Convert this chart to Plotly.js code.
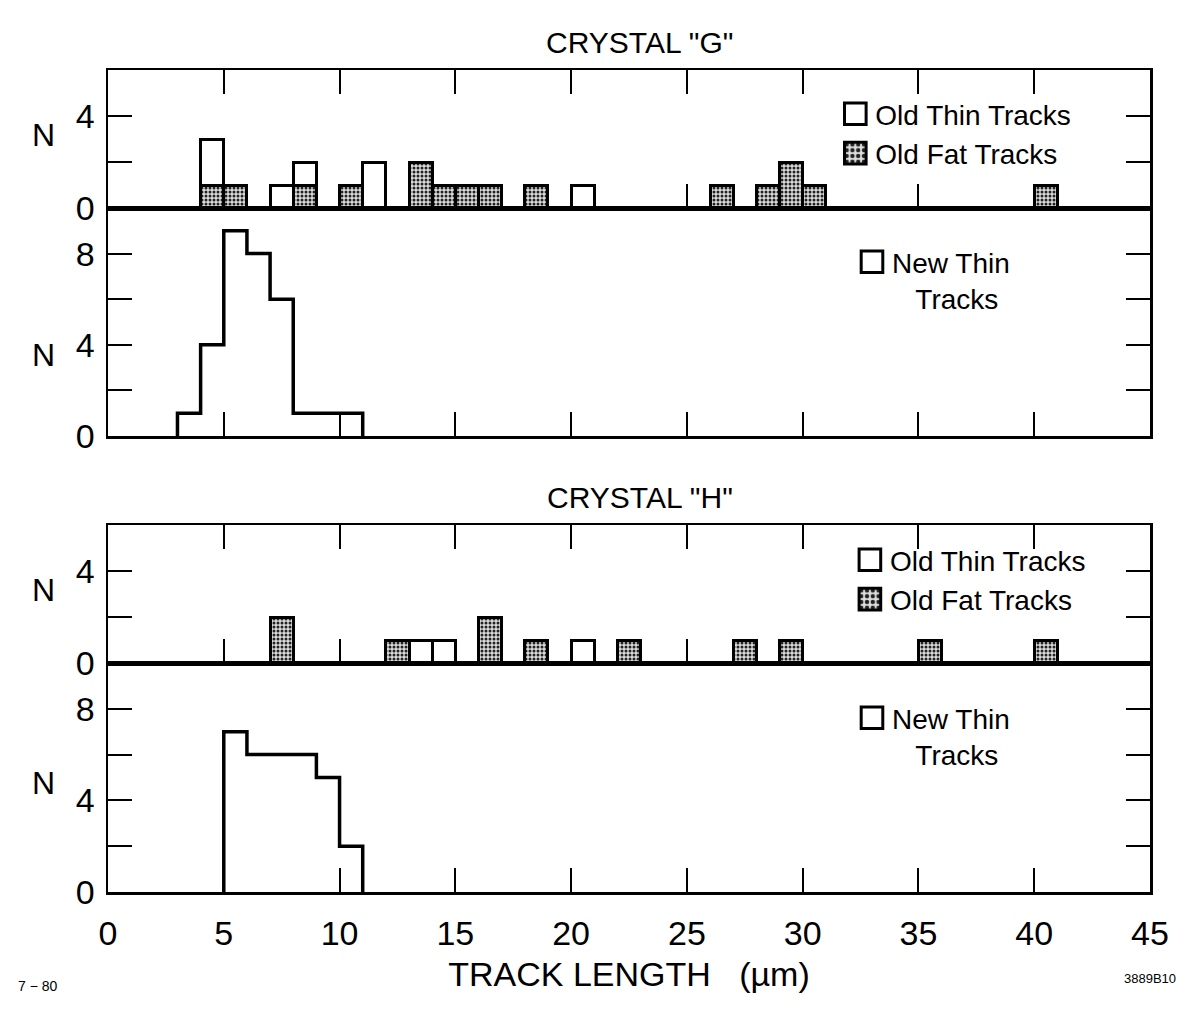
<!DOCTYPE html>
<html>
<head>
<meta charset="utf-8">
<script src="https://cdn.plot.ly/plotly-3.0.1.min.js"></script>
<style>
html,body{margin:0;padding:0;background:#fff}
#chart{width:1187px;height:1011px}
/* legend keys that describe the step outlines are shown at full strength */
#chart .infolayer g.traces{opacity:1 !important}
/* larger legend boxes, like the hand-drawn keys */
#chart .infolayer .legendpoints path{transform:translate(20px,0px) scale(1.8);vector-effect:non-scaling-stroke}
</style>
</head>
<body>
<div id="chart"></div>
<script>
// ---------- data ----------
const binWidth = 1; // µm

// Crystal "G" – old tracks (bin centres, counts)
const gFatX  = [4.5, 5.5, 8.5, 10.5, 13.5, 14.5, 15.5, 16.5, 18.5, 26.5, 28.5, 29.5, 30.5, 40.5];
const gFatN  = [1,   1,   1,   1,    2,    1,    1,    1,    1,    1,    1,    2,    1,    1];
const gThinX = [4.5, 7.5, 8.5, 11.5, 20.5];
const gThinN = [2,   1,   1,   2,    1];   // stacked on top of fat tracks

// Crystal "G" – new thin tracks (bin left edges, counts)
const gNewStart = [3, 4, 5, 6, 7, 8, 9, 10];
const gNewN     = [1, 4, 9, 8, 6, 1, 1, 1];

// Crystal "H" – old tracks
const hFatX  = [7.5, 12.5, 16.5, 18.5, 22.5, 27.5, 29.5, 35.5, 40.5];
const hFatN  = [2,   1,    2,    1,    1,    1,    1,    1,    1];
const hThinX = [13.5, 14.5, 20.5];
const hThinN = [1,    1,    1];

// Crystal "H" – new thin tracks
const hNewStart = [5, 6, 7, 8, 9, 10];
const hNewN     = [7, 6, 6, 6, 5, 2];

const xTickVals = [0, 5, 10, 15, 20, 25, 30, 35, 40, 45];
const oldYTickVals = [0, 2, 4, 6];
const oldYTickText = ['0', '', '4', ''];
const newYTickVals = [0, 2, 4, 6, 8];
const newYTickText = ['0', '', '4', '', '8'];

// ---------- styles ----------
const FONT = 'Liberation Sans, Arial, sans-serif';
const thinMarker = {color: '#ffffff', line: {color: '#000', width: 3}};
const fatMarker = {
  color: '#9a9a9a',
  line: {color: '#000', width: 3},
  pattern: {shape: '.', fgcolor: '#222', bgcolor: '#dcdcdc', size: 4, solidity: 0.45}
};

// step outline built from bin edges + counts
function stepX(starts) { return [starts[0]].concat(starts, [starts[starts.length - 1] + binWidth]); }
function stepY(counts) { return [0].concat(counts, [0]); }
function centres(starts) { return starts.map(s => s + binWidth / 2); }

const NEW_NAME = 'New Thin<br>\u00A0\u00A0\u00A0Tracks';

const traces = [
  // G old
  {type: 'bar', x: gFatX, y: gFatN, width: binWidth, xaxis: 'x', yaxis: 'y', name: 'Old Fat Tracks',
   marker: fatMarker, legend: 'legend', showlegend: true, hoverinfo: 'skip'},
  {type: 'bar', x: gThinX, y: gThinN, width: binWidth, xaxis: 'x', yaxis: 'y', name: 'Old Thin Tracks',
   marker: thinMarker, legend: 'legend', showlegend: true, hoverinfo: 'skip'},
  // G new: step outline + legend key (same data, legend only)
  {type: 'scatter', mode: 'lines', x: stepX(gNewStart), y: stepY(gNewN), line: {shape: 'hv', color: '#000', width: 3.5},
   xaxis: 'x2', yaxis: 'y2', showlegend: false, hoverinfo: 'skip'},
  {type: 'bar', x: centres(gNewStart), y: gNewN, width: binWidth, xaxis: 'x2', yaxis: 'y2', name: NEW_NAME,
   marker: thinMarker, legend: 'legend2', showlegend: true, visible: 'legendonly'},
  // H old
  {type: 'bar', x: hFatX, y: hFatN, width: binWidth, xaxis: 'x3', yaxis: 'y3', name: 'Old Fat Tracks',
   marker: fatMarker, legend: 'legend3', showlegend: true, hoverinfo: 'skip'},
  {type: 'bar', x: hThinX, y: hThinN, width: binWidth, xaxis: 'x3', yaxis: 'y3', name: 'Old Thin Tracks',
   marker: thinMarker, legend: 'legend3', showlegend: true, hoverinfo: 'skip'},
  // H new
  {type: 'scatter', mode: 'lines', x: stepX(hNewStart), y: stepY(hNewN), line: {shape: 'hv', color: '#000', width: 3.5},
   xaxis: 'x4', yaxis: 'y4', showlegend: false, hoverinfo: 'skip'},
  {type: 'bar', x: centres(hNewStart), y: hNewN, width: binWidth, xaxis: 'x4', yaxis: 'y4', name: NEW_NAME,
   marker: thinMarker, legend: 'legend4', showlegend: true, visible: 'legendonly'}
];

function xAxis(anchor, mirror, labels) {
  return {
    anchor: anchor, domain: [0, 1], range: [0, 45], tickvals: xTickVals,
    ticks: 'inside', ticklen: 24, tickwidth: 2, tickcolor: '#000',
    showline: true, linewidth: 2.5, linecolor: '#000', mirror: mirror,
    showgrid: false, zeroline: false, showticklabels: labels, automargin: false,
    tickfont: {family: FONT, size: 34, color: '#000'}, fixedrange: true
  };
}
function yAxis(anchor, domain, maxv, vals, text) {
  return {
    anchor: anchor, domain: domain, range: [0, maxv], tickvals: vals, ticktext: text,
    ticks: 'inside', ticklen: 24, tickwidth: 2, tickcolor: '#000',
    showline: true, linewidth: 2.5, linecolor: '#000', mirror: 'ticks',
    showgrid: false, zeroline: false, automargin: false, ticklabelstandoff: 4,
    tickfont: {family: FONT, size: 34, color: '#000'}, fixedrange: true
  };
}
function legendAt(x, y) {
  return {x: x, y: y, xref: 'paper', yref: 'paper', xanchor: 'left', yanchor: 'top',
          bgcolor: 'rgba(0,0,0,0)', borderwidth: 0,
          traceorder: 'reversed', valign: 'top', orientation: 'v',
          itemclick: false, itemdoubleclick: false,
          font: {family: FONT, size: 28, color: '#000'}};
}

const H = 1011;
const px = v => 1 - v / H; // helper for domain fractions from pixel rows

const xa4 = xAxis('y4', true, true);
xa4.title = {text: 'TRACK LENGTH\u00A0\u00A0\u00A0(µm)', font: {family: FONT, size: 34, color: '#000'}, standoff: 11};
xa4.ticklabelstandoff = 10;

const layout = {
  width: 1187, height: 1011,
  margin: {l: 108, r: 37, t: 0, b: 0},
  paper_bgcolor: '#fff', plot_bgcolor: '#fff',
  showlegend: true,
  barmode: 'stack', bargap: 0,
  font: {family: FONT, color: '#000'},
  title: {text: 'CRYSTAL "G"', x: 0.539, xanchor: 'center', y: px(42), yanchor: 'middle',
          font: {family: FONT, size: 30, color: '#000'}},
  xaxis: xAxis('y', 'ticks', false),
  xaxis2: xAxis('y2', true, false),
  xaxis3: xAxis('y3', 'ticks', false),
  xaxis4: xa4,
  yaxis: yAxis('x', [px(208), px(70)], 6, oldYTickVals, oldYTickText),
  yaxis2: yAxis('x2', [px(436), px(208)], 10, newYTickVals, newYTickText),
  yaxis3: yAxis('x3', [px(663), px(525)], 6, oldYTickVals, oldYTickText),
  yaxis4: yAxis('x4', [px(892), px(663)], 10, newYTickVals, newYTickText),
  legend: legendAt(0.698, px(89)),
  legend2: legendAt(0.714, px(237)),
  legend3: legendAt(0.712, px(535)),
  legend4: legendAt(0.714, px(693)),
  annotations: [
    {text: 'CRYSTAL "H"', xref: 'paper', yref: 'paper', x: 0.5106, y: px(497), showarrow: false,
     font: {family: FONT, size: 30, color: '#000'}},
    {text: 'N', xref: 'paper', yref: 'y domain', x: -0.075, y: 0.53, showarrow: false, font: {family: FONT, size: 32, color: '#000'}},
    {text: 'N', xref: 'paper', yref: 'y2 domain', x: -0.075, y: 0.355, showarrow: false, font: {family: FONT, size: 32, color: '#000'}},
    {text: 'N', xref: 'paper', yref: 'y3 domain', x: -0.075, y: 0.53, showarrow: false, font: {family: FONT, size: 32, color: '#000'}},
    {text: 'N', xref: 'paper', yref: 'y4 domain', x: -0.075, y: 0.476, showarrow: false, font: {family: FONT, size: 32, color: '#000'}},
    {text: '7 \u2212 80', xref: 'paper', yref: 'paper', x: -0.067, xanchor: 'center', y: px(996), showarrow: false,
     font: {family: FONT, size: 14, color: '#000'}},
    {text: '3889B10', xref: 'paper', yref: 'paper', x: 1.0, xanchor: 'center', y: px(988), showarrow: false,
     font: {family: FONT, size: 13, color: '#000'}}
  ]
};

Plotly.newPlot('chart', traces, layout, {displayModeBar: false, staticPlot: true});
</script>
</body>
</html>
